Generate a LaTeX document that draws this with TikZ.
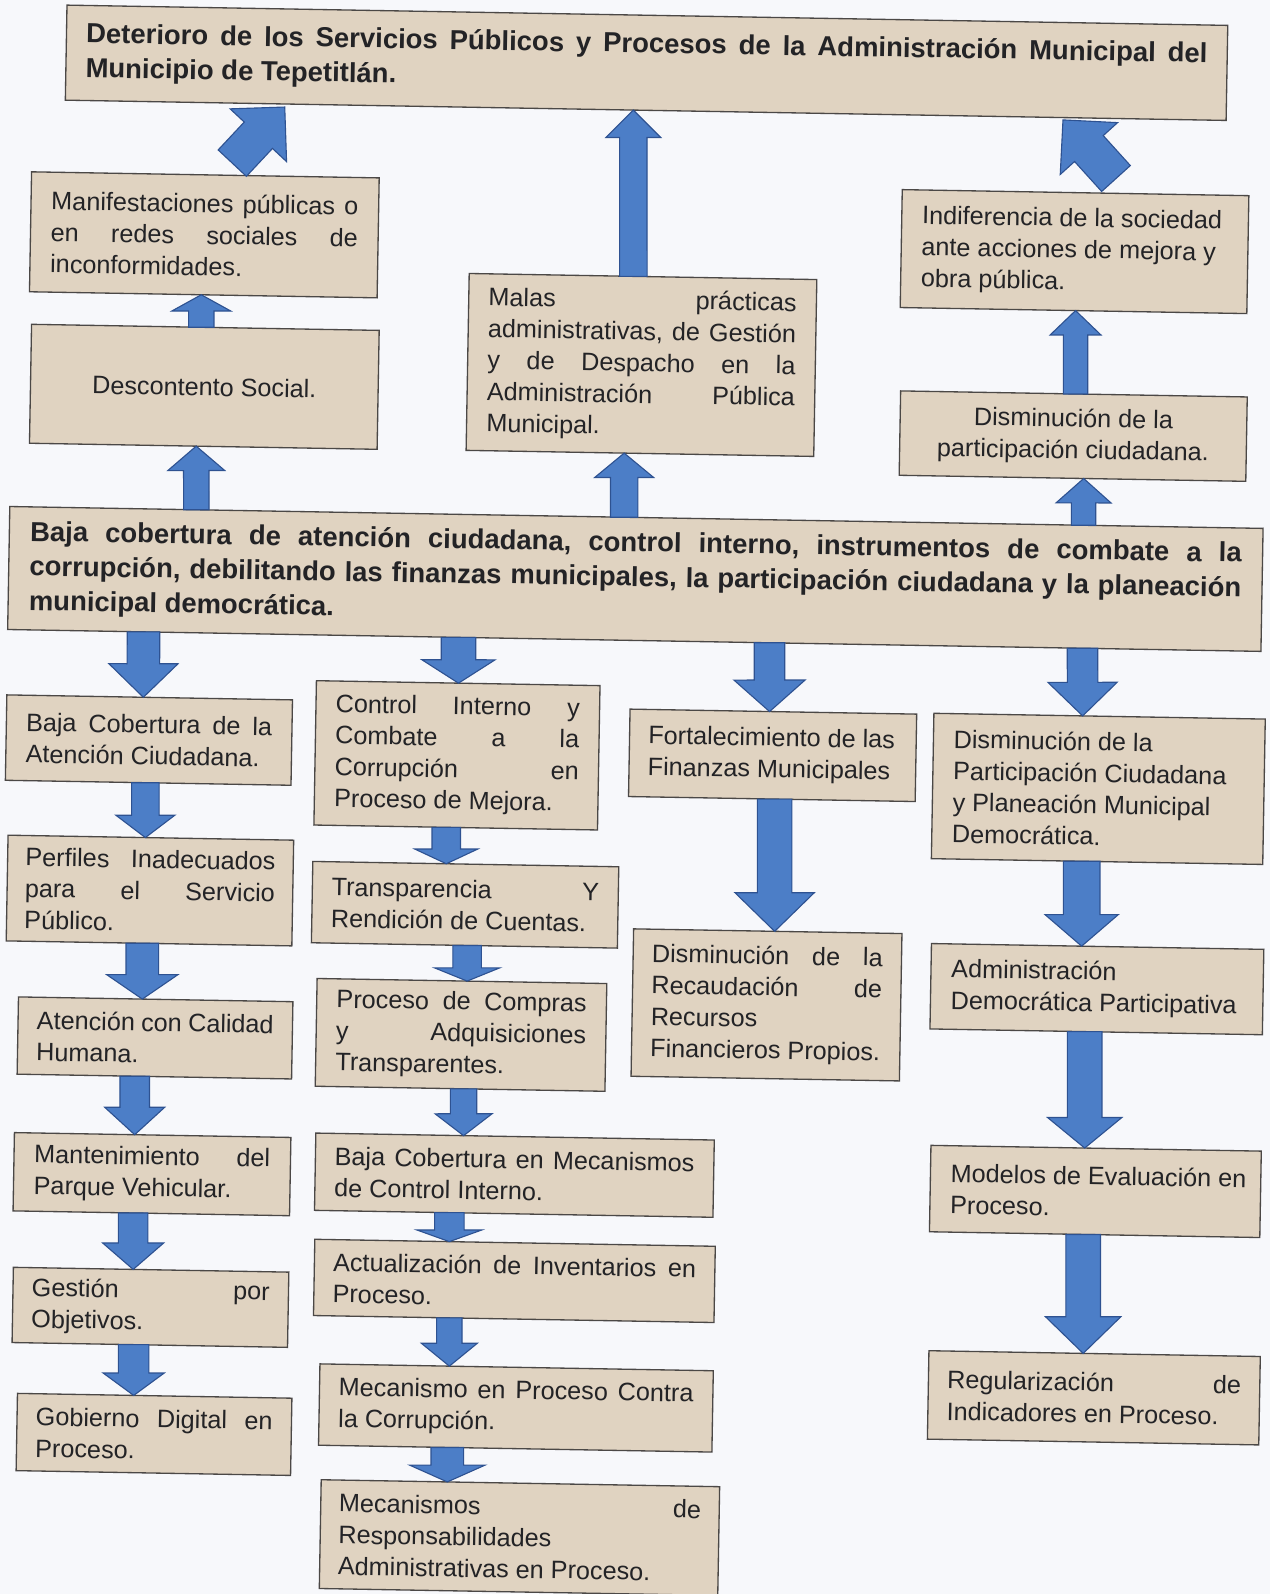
\documentclass[tikz,border=0pt]{standalone}
\usepackage{fontspec}
\setmainfont{Liberation Sans}
\usetikzlibrary{calc}
\frenchspacing
\definecolor{boxfill}{RGB}{224,211,193}
\definecolor{boxline}{RGB}{75,72,70}
\definecolor{arrfill}{RGB}{76,126,199}
\definecolor{arrline}{RGB}{46,82,145}
\definecolor{txt}{RGB}{35,35,38}
\definecolor{paper}{RGB}{247,248,251}
\newcommand\J[1]{{\spaceskip=0pt\xspaceskip=0pt\makebox[\hsize][s]{#1}}}
\newcommand\Ln[1]{{\spaceskip=0pt\xspaceskip=0pt\mbox{#1}}}
\newcommand\BlockPoly[3]{%
  \path ($(bb)!#3!(ba)$) coordinate (bh);
  \draw[blockarrow] ($(ba)!#1!90:(bb)$) -- ($(bh)!#1!90:(bb)$) -- ($(bh)!#2!90:(bb)$) -- (bb)
    -- ($(bh)!#2!-90:(bb)$) -- ($(bh)!#1!-90:(bb)$) -- ($(ba)!#1!-90:(bb)$) -- cycle;}
\newcommand\VArrow[8]{%
  \path (#5,0 |- #1.#2) coordinate (bpa) (#5,0 |- #3.#4) coordinate (bpb);
  \path ($(#1.#2 west)!(bpa)!(#1.#2 east)$) coordinate (ba)
        ($(#3.#4 west)!(bpb)!(#3.#4 east)$) coordinate (bb);
  \BlockPoly{#6pt}{#7pt}{#8pt}}
\begin{document}
\begin{tikzpicture}[x=1pt,y=-1pt,
  box/.style={draw=boxline, fill=boxfill, line width=1.3pt, inner sep=0pt, outer sep=0pt,
    rotate=-1, text=txt, align=left, font=\fontsize{24.8pt}{31pt}\selectfont},
  titlebox/.style={box, font=\fontsize{27pt}{34pt}\selectfont\bfseries},
  blockarrow/.style={fill=arrfill, draw=arrline, line width=1.1pt, line join=miter}]
\useasboundingbox (0,0) rectangle (1249,1568);
\fill[paper] (0,0) rectangle (1249,1568);

% top level
\node[titlebox, minimum width=1142pt, minimum height=93.5pt, text width=1103pt] (T) at (636,61.75)
  {\J{Deterioro de los Servicios Públicos y Procesos de la Administración Municipal del}\\\Ln{Municipio de Tepetitlán.}};
\node[box, minimum width=342pt, minimum height=118pt, text width=302pt] (M) at (201,231)
  {\J{Manifestaciones públicas o}\\\J{en redes sociales de}\\\Ln{inconformidades.}};
\node[box, align=center, minimum width=342pt, minimum height=117pt, text width=302pt] (D) at (201,380.5)
  {\Ln{Descontento Social.}};
\node[box, minimum width=342pt, minimum height=174pt, text width=303pt] (Ma) at (631,359)
  {\J{Malas prácticas}\\\J{administrativas, de Gestión}\\\J{y de Despacho en la}\\\J{Administración Pública}\\\Ln{Municipal.}};
\node[box, minimum width=341pt, minimum height=116pt, text width=301pt] (I) at (1057,247.5)
  {\Ln{Indiferencia de la sociedad}\\\Ln{ante acciones de mejora y}\\\Ln{obra pública.}};
\node[box, align=center, minimum width=341pt, minimum height=83pt, text width=301pt] (DP) at (1055.7,429)
  {\Ln{Disminución de la}\\\Ln{participación ciudadana.}};

% central problem
\node[titlebox, minimum width=1233pt, minimum height=121pt, text width=1192pt] (B) at (625,569.5)
  {\J{Baja cobertura de atención ciudadana, control interno, instrumentos de combate a la}\\\J{corrupción, debilitando las finanzas municipales, la participación ciudadana y la planeación}\\\Ln{municipal democrática.}};

% column 1
\node[box, minimum width=281pt, minimum height=84pt, text width=242pt] (C1) at (146.5,728)
  {\J{Baja Cobertura de la}\\\Ln{Atención Ciudadana.}};
\node[box, minimum width=281pt, minimum height=104pt, text width=246pt] (C2) at (147.5,876)
  {\J{Perfiles Inadecuados}\\\J{para el Servicio}\\\Ln{Público.}};
\node[box, minimum width=270pt, minimum height=76pt, text width=233pt] (C3) at (152.5,1021)
  {\J{Atención con Calidad}\\\Ln{Humana.}};
\node[box, minimum width=272pt, minimum height=77pt, text width=232pt] (C4) at (149.5,1155)
  {\J{Mantenimiento del}\\\Ln{Parque Vehicular.}};
\node[box, minimum width=271pt, minimum height=74pt, text width=234pt] (C5) at (148,1286)
  {\J{Gestión por}\\\Ln{Objetivos.}};
\node[box, minimum width=270pt, minimum height=76pt, text width=233pt] (C6) at (151.5,1411)
  {\J{Gobierno Digital en}\\\Ln{Proceso.}};

% column 2
\node[box, minimum width=279pt, minimum height=142pt, text width=240pt] (K1) at (449.5,743)
  {\J{Control Interno y}\\\J{Combate a la}\\\J{Corrupción en}\\\Ln{Proceso de Mejora.}};
\node[box, minimum width=301pt, minimum height=80pt, text width=263pt] (K2) at (457.5,890)
  {\J{Transparencia Y}\\\Ln{Rendición de Cuentas.}};
\node[box, minimum width=285pt, minimum height=106pt, text width=246pt] (K3) at (453.5,1018)
  {\J{Proceso de Compras}\\\J{y Adquisiciones}\\\Ln{Transparentes.}};
\node[box, minimum width=392pt, minimum height=76pt, text width=354pt] (K4) at (506,1156)
  {\J{Baja Cobertura en Mecanismos}\\\Ln{de Control Interno.}};
\node[box, minimum width=394pt, minimum height=75pt, text width=357pt] (K5) at (506,1260)
  {\J{Actualización de Inventarios en}\\\Ln{Proceso.}};
\node[box, minimum width=387pt, minimum height=80pt, text width=349pt] (K6) at (507.5,1385)
  {\J{Mecanismo en Proceso Contra}\\\Ln{la Corrupción.}};
\node[box, minimum width=392pt, minimum height=107pt, text width=356pt] (K7) at (511,1512.5)
  {\J{Mecanismos de}\\\Ln{Responsabilidades}\\\Ln{Administrativas en Proceso.}};

% column 3
\node[box, minimum width=282pt, minimum height=86pt, text width=245pt] (F1) at (760,743)
  {\Ln{Fortalecimiento de las}\\\Ln{Finanzas Municipales}};
\node[box, minimum width=264pt, minimum height=145pt, text width=227pt] (F2) at (754,988.5)
  {\J{Disminución de la}\\\J{Recaudación de}\\\Ln{Recursos}\\\Ln{Financieros Propios.}};

% column 4
\node[box, minimum width=326pt, minimum height=143pt, text width=286pt] (G1) at (1080.4,776)
  {\Ln{Disminución de la}\\\Ln{Participación Ciudadana}\\\Ln{y Planeación Municipal}\\\Ln{Democrática.}};
\node[box, minimum width=327pt, minimum height=84pt, text width=287pt] (G2) at (1079,973)
  {\Ln{Administración}\\\Ln{Democrática Participativa}};
\node[box, minimum width=325pt, minimum height=85pt, text width=285pt] (G3) at (1077.5,1172)
  {\Ln{Modelos de Evaluación en}\\\Ln{Proceso.}};
\node[box, minimum width=326pt, minimum height=87pt, text width=289pt] (G4) at (1076,1375)
  {\J{Regularización de}\\\Ln{Indicadores en Proceso.}};

% diagonal arrows to the top box
\path (228.5,0 |- M.north) coordinate (bpa) (280,0 |- T.south) coordinate (bpb);
\path ($(M.north west)!(bpa)!(M.north east)+(0,-12)$) coordinate (ba)
      ($(T.south west)!(bpb)!(T.south east)+(0,3)$) coordinate (bb);
\BlockPoly{19pt}{38pt}{38pt}
\path (1097.8,0 |- I.north) coordinate (bpa) (1045.8,0 |- T.south) coordinate (bpb);
\path ($(I.north west)!(bpa)!(I.north east)+(0,-14.6)$) coordinate (ba)
      ($(T.south west)!(bpb)!(T.south east)+(0,2.3)$) coordinate (bb);
\BlockPoly{19pt}{38pt}{38pt}

% upward arrows
\VArrow{Ma}{north}{T}{south}{623}{13.5}{27}{27}
\VArrow{D}{north}{M}{south}{198}{12.5}{29}{16}
\VArrow{B}{north}{D}{south}{193}{12.5}{28}{24}
\VArrow{B}{north}{Ma}{south}{614}{13.5}{29}{24}
\VArrow{B}{north}{DP}{south}{1066}{12}{27}{24}
\VArrow{DP}{north}{I}{south}{1058}{12}{25}{24}

% downward arrows
\VArrow{B}{south}{C1}{north}{141}{16}{34}{33}
\VArrow{B}{south}{K1}{north}{451}{17}{36}{23}
\VArrow{B}{south}{F1}{north}{757}{15}{35}{31}
\VArrow{B}{south}{G1}{north}{1065}{15}{34}{33}
\VArrow{C1}{south}{C2}{north}{143}{13.5}{29}{22}
\VArrow{C2}{south}{C3}{north}{140}{16}{35}{24}
\VArrow{C3}{south}{C4}{north}{132.5}{14.5}{29.5}{27}
\VArrow{C4}{south}{C5}{north}{131}{14.5}{30}{26}
\VArrow{C5}{south}{C6}{north}{131.5}{15}{30}{22}
\VArrow{K1}{south}{K2}{north}{439}{14}{31}{14.5}
\VArrow{K2}{south}{K3}{north}{459.5}{14}{32}{13}
\VArrow{K3}{south}{K4}{north}{456}{13}{28}{21.5}
\VArrow{K4}{south}{K5}{north}{442}{14.5}{32}{11.5}
\VArrow{K5}{south}{K6}{north}{442}{12.5}{27.5}{22.5}
\VArrow{K6}{south}{K7}{north}{440}{16}{37}{16.5}
\VArrow{F1}{south}{F2}{north}{762}{17}{39}{38}
\VArrow{G1}{south}{G2}{north}{1064}{18}{36}{31}
\VArrow{G2}{south}{G3}{north}{1067}{17}{36.5}{30}
\VArrow{G3}{south}{G4}{north}{1065.5}{17}{37}{36}
\end{tikzpicture}
\end{document}
